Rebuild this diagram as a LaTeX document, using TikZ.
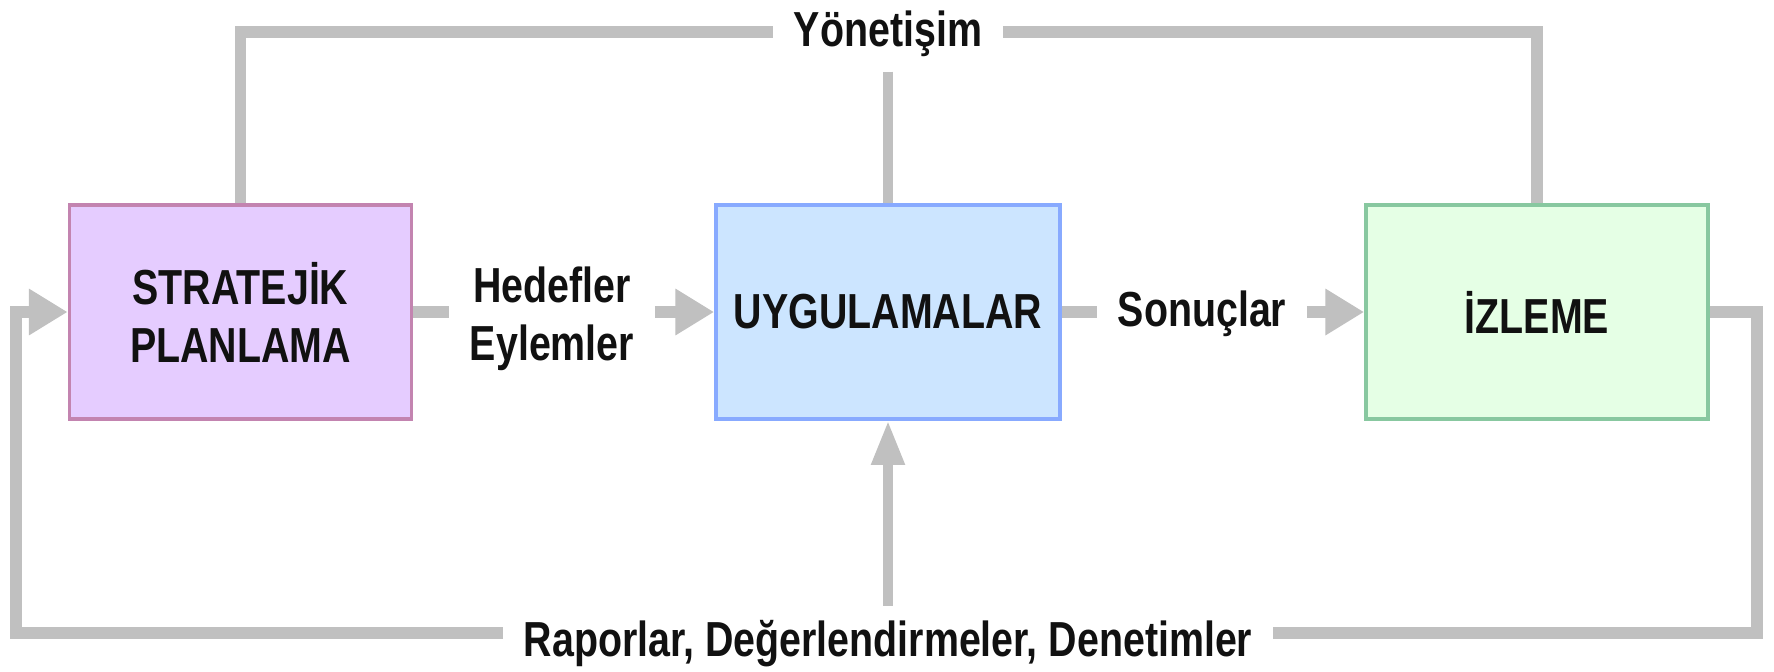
\documentclass[tikz,border=0pt]{standalone}
\usepackage{fontspec}
\setmainfont{Liberation Sans}[FakeStretch=0.8]
\usetikzlibrary{arrows.meta}
\definecolor{lineg}{HTML}{C0C0C0}
\definecolor{spfill}{HTML}{E5CCFF}
\definecolor{spdraw}{HTML}{C384B0}
\definecolor{ugfill}{HTML}{CCE5FF}
\definecolor{ugdraw}{HTML}{88AAFF}
\definecolor{izfill}{HTML}{E5FFE5}
\definecolor{izdraw}{HTML}{88C8A0}
\definecolor{txt}{HTML}{111111}
\newcommand\lblfont{\fontsize{14}{16.5}\selectfont\bfseries}
\begin{document}
\begin{tikzpicture}[x=0.1mm,y=-0.1mm,
  box/.style={draw, line width=1.1pt, minimum width=34.2mm, minimum height=21.4mm,
    align=center, inner sep=0pt, font=\lblfont, text=txt},
  lab/.style={inner xsep=5.7pt, inner ysep=4pt, align=center, font=\lblfont, text=txt},
  gl/.style={draw=lineg, line width=3.4pt},
  gt/.style={draw=lineg, line width=2.6pt},
  tip/.style={-{Triangle[length=11pt,width=12.5pt]}},
  uptip/.style={-{Triangle[length=12.5pt,width=9pt]}}]
\useasboundingbox (0,0) rectangle (1774,671);
\fill[white] (0,0) rectangle (1774,671);
\node[box, fill=spfill, draw=spdraw] (sp) at (240.5,312) {STRATEJİK\\PLANLAMA};
\node[box, fill=ugfill, draw=ugdraw, minimum width=34.4mm] (ug) at (888,312) {UYGULAMALAR};
\node[box, fill=izfill, draw=izdraw] (iz) at (1537,312) {İZLEME};
\node[lab] (hed) at (552,319) {Hedefler\\Eylemler};
\node[lab] (son) at (1202,314) {Sonuçlar};
\node[lab] (yon) at (888,34) {Yönetişim};
\node[lab] (rap) at (888,644) {Raporlar, Değerlendirmeler, Denetimler};
\coordinate (ty) at (0,32);
\coordinate (by) at (0,633);
\coordinate (lx) at (16,0);
\coordinate (rx) at (1757,0);
\draw[gl] (sp.north) -- (sp.north |- ty) -- (yon.west |- ty);
\draw[gl] (yon.east |- ty) -- (iz.north |- ty) -- (iz.north);
\draw[gt] (yon.south) -- (ug.north);
\draw[gl] (sp.east) -- (sp.east -| hed.west);
\draw[gl,tip] (hed.east |- ug.west) -- (ug.west);
\draw[gl] (ug.east) -- (ug.east -| son.west);
\draw[gl,tip] (son.east |- iz.west) -- (iz.west);
\draw[gl] (iz.east) -- (iz.east -| rx) -- (rx |- by) -- (rap.east |- by);
\draw[gl,tip] (rap.west |- by) -- (lx |- by) -- (lx |- sp.west) -- (sp.west);
\draw[gt,uptip] (rap.north) -- (ug.south);
\end{tikzpicture}
\end{document}
